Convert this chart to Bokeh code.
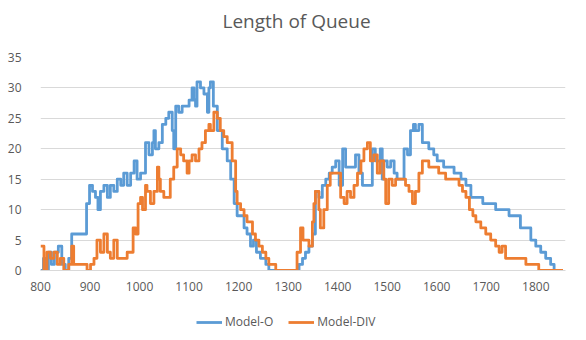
from bokeh.plotting import figure
from bokeh.models import Legend, LegendItem, Range1d, FixedTicker, Title
from bokeh.layouts import column
from bokeh.embed import file_html
from bokeh.resources import INLINE

# Model-O (blue)
time_o = [800, 806, 811, 816, 822, 828, 836, 843, 850, 857, 863, 877, 888, 893, 899,
          905, 911, 916, 921, 928, 935, 941, 948, 955, 962, 968, 975, 982, 989, 995,
          1002, 1008, 1012, 1019, 1026, 1029, 1032, 1039, 1046, 1053, 1059, 1066, 1069,
          1073, 1079, 1086, 1093, 1100, 1106, 1110, 1113, 1116, 1123, 1130, 1137, 1140,
          1143, 1149, 1157, 1167, 1177, 1184, 1191, 1197, 1204, 1211, 1217, 1224, 1230,
          1236, 1244, 1250, 1255, 1261, 1315, 1322, 1329, 1335, 1342, 1349, 1355, 1362,
          1369, 1376, 1383, 1389, 1396, 1403, 1410, 1416, 1423, 1430, 1436, 1443, 1450,
          1456, 1463, 1470, 1476, 1483, 1486, 1490, 1493, 1500, 1507, 1514, 1520, 1527,
          1534, 1541, 1547, 1553, 1557, 1564, 1571, 1577, 1584, 1594, 1601, 1608, 1614,
          1621, 1628, 1635, 1642, 1649, 1659, 1669, 1679, 1693, 1706, 1719, 1732, 1746,
          1759, 1769, 1780, 1790, 1800, 1810, 1820, 1830, 1837, 1842]
queue_o = [0, 2, 0, 3, 1, 3, 4, 1, 0, 2, 6, 6, 6, 11, 14,
           13, 12, 10, 13, 14, 12, 14, 13, 15, 14, 16, 14, 16, 18, 15,
           16, 16, 21, 19, 21, 23, 20, 21, 24, 25, 26, 23, 20,
           27, 26, 27, 27, 28, 30, 28, 27, 31, 30, 29, 26, 30,
           31, 27, 23, 20, 18, 15, 11, 9, 9, 7, 6, 4, 5,
           3, 2, 2, 1, 0, 0, 1, 2, 3, 4, 6, 13, 12,
           14, 15, 16, 17, 18, 14, 20, 17, 17, 17, 19, 16, 14,
           14, 14, 20, 18, 18, 20, 15, 18, 17, 18, 16, 15, 15,
           20, 19, 23, 24, 23, 24, 21, 21, 20, 19, 18, 18, 17,
           17, 17, 16, 16, 15, 14, 12, 12, 11, 11, 10, 10, 9,
           9, 7, 7, 5, 4, 3, 2, 1, 0, 0]

# Model-DIV (orange)
time_div = [800, 807, 813, 820, 827, 834, 840, 847, 857, 863, 867, 874, 884, 894, 901,
            908, 914, 921, 928, 935, 941, 948, 955, 965, 975, 982, 987, 992, 997, 1002,
            1006, 1012, 1015, 1022, 1029, 1036, 1039, 1042, 1049, 1056, 1062, 1069, 1076,
            1083, 1089, 1096, 1100, 1106, 1113, 1120, 1126, 1133, 1140, 1143, 1150, 1157,
            1163, 1170, 1177, 1184, 1187, 1194, 1197, 1204, 1211, 1217, 1224, 1228, 1234,
            1241, 1248, 1255, 1261, 1268, 1275, 1311, 1318, 1325, 1330, 1335, 1342, 1349,
            1352, 1355, 1362, 1365, 1372, 1379, 1385, 1392, 1399, 1406, 1413, 1419, 1426,
            1433, 1440, 1447, 1453, 1460, 1466, 1473, 1480, 1486, 1493, 1497, 1503, 1510,
            1517, 1524, 1530, 1537, 1544, 1551, 1557, 1564, 1571, 1577, 1584, 1591, 1598,
            1604, 1611, 1618, 1625, 1632, 1638, 1645, 1652, 1659, 1666, 1673, 1679, 1689,
            1699, 1709, 1719, 1726, 1732, 1739, 1753, 1766, 1780, 1793, 1806, 1855]
queue_div = [4, 0, 3, 2, 3, 1, 2, 0, 1, 4, 1, 1, 1, 0, 1,
             2, 5, 3, 6, 3, 2, 5, 2, 2, 3, 3, 7, 6, 11, 12,
             10, 14, 13, 11, 13, 17, 15, 13, 12, 12, 15, 17, 20,
             19, 18, 16, 18, 19, 18, 20, 21, 23, 24, 23, 26, 25,
             23, 22, 21, 21, 18, 13, 11, 10, 9, 8, 8, 6, 5,
             4, 3, 2, 1, 1, 0, 0, 3, 7, 5, 5, 4, 8,
             11, 13, 10, 7, 10, 14, 16, 16, 16, 12, 11, 13, 12,
             14, 16, 18, 20, 21, 18, 19, 16, 18, 15, 11, 15, 14,
             15, 15, 15, 14, 13, 11, 13, 16, 18, 18, 17, 17, 17,
             16, 16, 15, 15, 15, 15, 14, 13, 12, 10, 9, 8, 7,
             6, 5, 4, 3, 4, 2, 2, 2, 1, 1, 0, 0]

series_names = ["Model-O", "Model-DIV"]
x_ticks = [800, 900, 1000, 1100, 1200, 1300, 1400, 1500, 1600, 1700, 1800]
y_ticks = [0, 5, 10, 15, 20, 25, 30, 35]

FONT = "Open Sans"
TXT = "#595959"
GRID = "#d9d9d9"
BLUE = "#5B9BD5"
ORANGE = "#ED7D31"
LW = 2.8

p = figure(width=586, height=300, output_backend="svg", toolbar_location=None,
           x_range=Range1d(800, 1860), y_range=Range1d(0, 35),
           min_border_left=40, min_border_right=21, min_border_top=53,
           min_border_bottom=30, title=None)

# spacer between frame and title (added first, so it sits next to the frame)
p.add_layout(Title(text=" ", text_font_size="16px", standoff=0), "above")
p.add_layout(Title(text="Length of Queue", align="left", text_font=FONT,
                   text_font_size="19px", text_font_style="normal",
                   text_color=TXT, offset=182), "above")

p.outline_line_color = None
p.background_fill_color = "white"
p.border_fill_color = "white"

p.xaxis.ticker = FixedTicker(ticks=x_ticks)
p.yaxis.ticker = FixedTicker(ticks=y_ticks)
for ax in (p.xaxis, p.yaxis):
    ax.major_tick_line_color = None
    ax.minor_tick_line_color = None
    ax.major_label_text_font = FONT
    ax.major_label_text_font_size = "12px"
    ax.major_label_text_color = TXT
p.xaxis.axis_line_color = GRID
p.yaxis.axis_line_color = None
p.xaxis.major_label_standoff = 5
p.yaxis.major_label_standoff = 13

p.xgrid.grid_line_color = None
p.ygrid.grid_line_color = GRID
p.ygrid.grid_line_width = 1

p.step(time_o, queue_o, mode="after", line_color=BLUE, line_width=LW, line_join="round")
p.step(time_div, queue_div, mode="after", line_color=ORANGE, line_width=LW,
       line_join="round")

# legend strip below the chart (its own series are outside its view range)
leg = figure(width=586, height=40, output_backend="svg", toolbar_location=None,
             x_range=Range1d(0, 1), y_range=Range1d(100, 101),
             x_axis_type=None, y_axis_type=None,
             min_border_left=0, min_border_right=0, min_border_top=0,
             min_border_bottom=0, title=None)
leg.grid.grid_line_color = None
leg.outline_line_color = None
leg.border_fill_color = "white"
lo = leg.step(time_o, queue_o, mode="after", line_color=BLUE, line_width=LW)
ld = leg.step(time_div, queue_div, mode="after", line_color=ORANGE, line_width=LW)
legend = Legend(items=[LegendItem(label=series_names[0], renderers=[lo]),
                       LegendItem(label=series_names[1], renderers=[ld])],
                orientation="horizontal", location=(156, 10),
                label_text_font=FONT, label_text_font_size="12px",
                label_text_color=TXT, glyph_width=26, glyph_height=14,
                label_height=14, label_standoff=3, spacing=15, padding=0,
                margin=0, border_line_color=None, background_fill_alpha=0)
leg.add_layout(legend, "center")

open("out.html", "w").write(file_html(column(p, leg, spacing=0), INLINE))
